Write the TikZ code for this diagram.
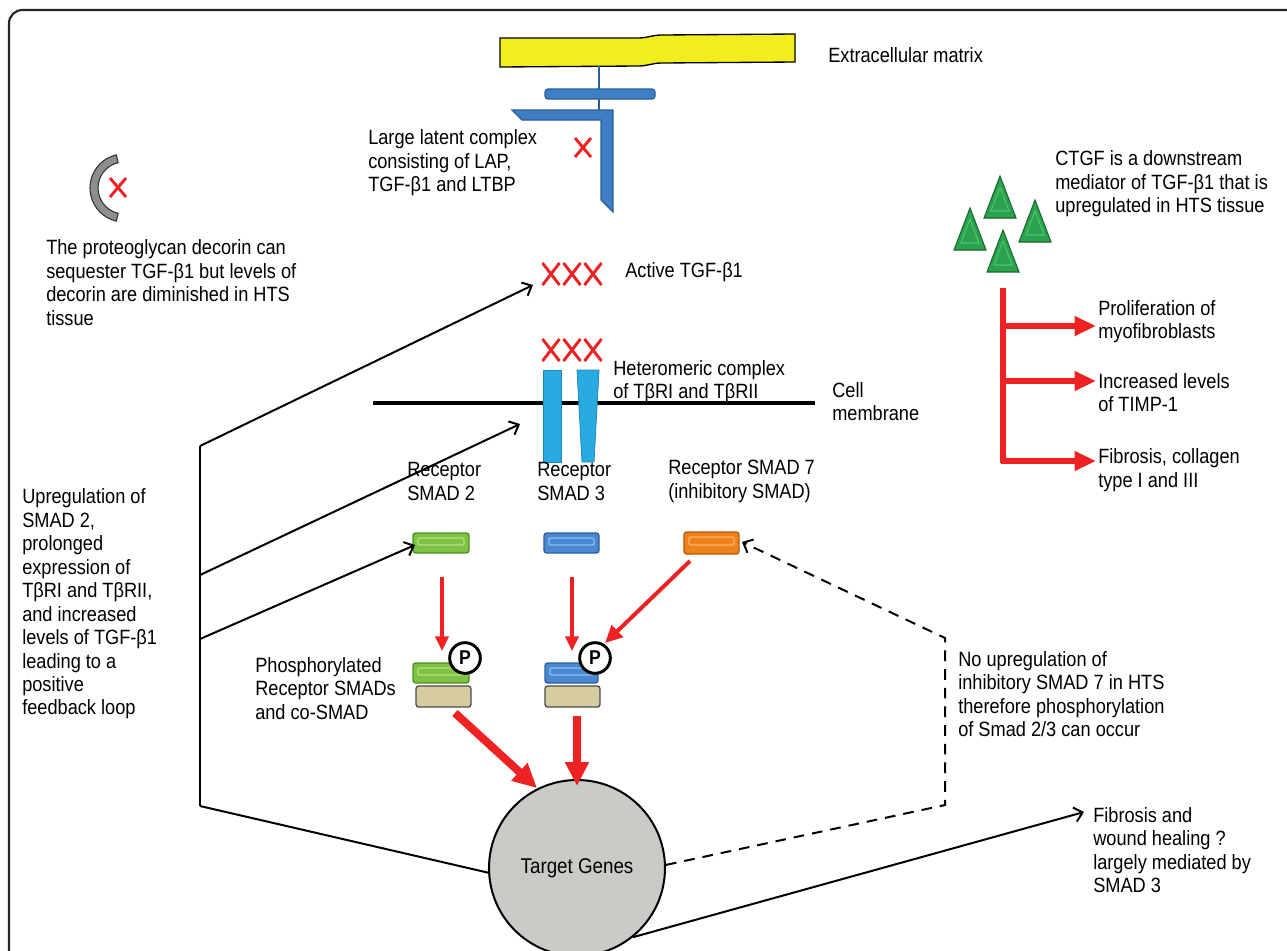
\documentclass[tikz,border=0pt]{standalone}
\usepackage{fontspec}
\setmainfont[FakeStretch=0.88]{Liberation Sans}
\usetikzlibrary{arrows.meta,calc}
\definecolor{ecmyellow}{HTML}{F2EE1E}
\definecolor{llcblue}{HTML}{3F7EC2}
\definecolor{llcdark}{HTML}{2B5E98}
\definecolor{recyan}{HTML}{29ABE2}
\definecolor{recdark}{HTML}{1B86B8}
\definecolor{smgreen}{HTML}{7DC242}
\definecolor{smgreendk}{HTML}{4F8F22}
\definecolor{smgreenlt}{HTML}{B8E27E}
\definecolor{smblue}{HTML}{4A88CF}
\definecolor{smbluedk}{HTML}{2C5F9E}
\definecolor{smbluelt}{HTML}{8EBDF0}
\definecolor{smorange}{HTML}{F0821E}
\definecolor{smorangedk}{HTML}{B45A0C}
\definecolor{smorangelt}{HTML}{F8B46A}
\definecolor{cotan}{HTML}{D7CBA0}
\definecolor{genegray}{HTML}{C9CBC7}
\definecolor{decgray}{HTML}{8E8E8E}
\definecolor{arrred}{HTML}{EE2222}
\definecolor{trigreen}{HTML}{2BA34E}
\definecolor{trigreendk}{HTML}{17672E}
\definecolor{trigreenlt}{HTML}{4CC46E}
\begin{document}
\begin{tikzpicture}[x=0.75pt,y=-0.75pt,
  txt/.style={inner sep=0pt, align=left, anchor=west, font=\fontsize{15.5}{17.6}\selectfont},
  blk/.style={line width=1.5pt, -{Straight Barb[length=6pt,width=11pt,line width=1.5pt]}},
  blkplain/.style={line width=1.5pt},
  redx/.style={draw=arrred, line width=2.2pt},
  redthin/.style={draw=arrred, line width=2.4pt, -{Triangle[length=11pt,width=10pt]}, arrred},
  redmid/.style={draw=arrred, line width=3pt, -{Triangle[length=13pt,width=12pt]}, arrred},
  redthick/.style={draw=arrred, line width=6pt, -{Triangle[length=18pt,width=17pt]}, arrred},
  redbranch/.style={draw=arrred, line width=3.8pt, -{Triangle[length=16pt,width=14pt]}, arrred},
  smadbox/.style={rounded corners=2pt, line width=1pt},
  pcirc/.style={circle, draw=black, line width=2.2pt, fill=white, minimum size=23pt, inner sep=0pt, font=\fontsize{15}{15}\selectfont\bfseries},
]
\useasboundingbox (0,0) rectangle (1287,950);
% border
\begin{scope}
\clip (0,0) rectangle (1287,950);
\draw[line width=1.6pt, draw=black!85, rounded corners=10pt] (9,10) rectangle (1300,965);
\end{scope}

% --- extracellular matrix
\draw[fill=ecmyellow, line width=1pt] (500,38) -- (638,38) .. controls (648,38) and (652,35) .. (662,35) -- (795,34) -- (795,62) -- (662,63) .. controls (652,63) and (648,66) .. (638,66) -- (500,67) -- cycle;
\node[txt] (ecm) at (828,55) {Extracellular matrix};
\coordinate (ecmb) at (599,66);
\coordinate (llct) at (599,110);
\draw[llcdark, line width=1pt] (ecmb) -- (llct);
% LLC
\draw[fill=llcblue, draw=llcdark, line width=0.8pt, rounded corners=2pt] (545,89) rectangle (655,99);
\draw[fill=llcblue, draw=llcdark, line width=0.8pt] (512,110) -- (613,110) -- (613,212) -- (601,200) -- (601,120) -- (522,120) -- cycle;
\draw[redx] (575,138) -- (591,157) (591,138) -- (575,157);
\node[txt] (llc) at (368,163) {Large latent complex\\consisting of LAP,\\TGF-β1  and LTBP};

% --- decorin
\coordinate (dc) at (124,188);
\draw[fill=decgray, draw=black!80, line width=0.8pt] ($(dc)+(103:25.5pt)$) arc[start angle=103, end angle=257, radius=25.5pt] -- ($(dc)+(257:19.5pt)$) arc[start angle=257, end angle=103, radius=19.5pt] -- cycle;
\draw[redx] (110,178) -- (126,197) (126,178) -- (110,197);
\node[txt] (dectxt) at (46,282.5) {The proteoglycan decorin can\\sequester TGF-β1  but levels of\\decorin are diminished in HTS\\tissue};

% --- active TGF
\foreach \cx in {551,572,593}{
  \draw[redx] (\cx-8.5,263) -- (\cx+8.5,285) (\cx+8.5,263) -- (\cx-8.5,285);
  \draw[redx] (\cx-8.5,339) -- (\cx+8.5,361) (\cx+8.5,339) -- (\cx-8.5,361);
}
\coordinate (activetgf) at (533,285);
\node[txt] (acttxt) at (625,272) {Active TGF-β1};

% --- membrane and receptors
\coordinate (memL) at (373,403);
\coordinate (memR) at (815,403);
\draw[line width=2.4pt] (memL) -- (memR);
\draw[fill=recyan, draw=recdark, line width=0.6pt] (543,370) rectangle (561,462);
\draw[fill=recyan, draw=recdark, line width=0.6pt] (577,370) -- (599,370) -- (594,462) -- (582,462) -- cycle;
\coordinate (recep) at (520,424);
\node[txt] (hettxt) at (613,381.5) {Heteromeric complex\\of TβRI and TβRII};
\node[txt] (celltxt) at (832,401.5) {Cell\\membrane};

% --- CTGF
\foreach \ax/\ay in {970/208,1000/176,1035/200,1003/230}{
  \draw[fill=trigreen, draw=trigreendk, line width=0.8pt] (\ax,\ay) -- (\ax-16,\ay+42) -- (\ax+16,\ay+42) -- cycle;
  \draw[draw=trigreenlt, line width=0.8pt] (\ax,\ay+11) -- (\ax-9,\ay+35) -- (\ax+9,\ay+35) -- cycle;
}
\node[txt] (ctgftxt) at (1055,184) {CTGF  is a downstream\\mediator of TGF-β1 that is\\upregulated in HTS  tissue};
\coordinate (ctgfb) at (1003,288);
\coordinate (br1) at (1003,326);
\coordinate (br2) at (1003,381);
\coordinate (br3) at (1003,461);
\draw[arrred, line width=3.8pt] (ctgfb) -- ($(br3)+(0,1.9)$);
\node[txt] (prolif) at (1098,321.5) {Proliferation of\\myofibroblasts};
\node[txt] (timp) at (1098,392.5) {Increased levels\\of TIMP-1};
\node[txt] (fibcol) at (1098,470) {Fibrosis, collagen\\type I and III};
\draw[redbranch] ($(br1)+(-1.9,0)$) -- (1096,326);
\draw[redbranch] ($(br2)+(-1.9,0)$) -- (1096,381);
\draw[redbranch] ($(br3)+(-1.9,0)$) -- (1096,461);

% --- left text and feedback lines
\node[txt] (uptxt) at (22,604) {Upregulation of\\SMAD 2,\\prolonged\\expression of\\TβRI and TβRII,\\and increased\\levels of TGF-β1\\leading to a\\positive\\feedback loop};
\coordinate (fbtop) at (200,446);
\coordinate (fbmid) at (200,575);
\coordinate (fblow) at (200,639);
\coordinate (fbbot) at (200,806);
\draw[blkplain] (fbtop) -- (fbbot);

% --- SMADs
\node[txt] (s2txt) at (407,481.5) {Receptor\\SMAD 2};
\node[txt] (s3txt) at (537,481.5) {Receptor\\SMAD 3};
\node[txt] (s7txt) at (668,481.5) {Receptor SMAD 7\\(inhibitory SMAD)};

\draw[smadbox, fill=smgreen, draw=smgreendk] (413,533) rectangle (469,553);
\draw[smgreenlt, line width=1pt, rounded corners=1pt] (418,538) rectangle (464,545);
\draw[smadbox, fill=smblue, draw=smbluedk] (544,533) rectangle (599,553);
\draw[smbluelt, line width=1pt, rounded corners=1pt] (549,538) rectangle (594,545);
\draw[smadbox, fill=smorange, draw=smorangedk] (684,532) rectangle (739,554);
\draw[smorangelt, line width=1pt, rounded corners=1pt] (689,537) rectangle (734,545);
\coordinate (s2in) at (415,545);
\coordinate (s7in) at (742,542);

\draw[redthin] (442,577) -- (442,651);
\draw[redthin] (572,577) -- (572,651);
\draw[redmid] (690,561) -- (605,643);

% phosphorylated complexes
\draw[smadbox, fill=cotan, draw=black!70] (416,686) rectangle (471,707);
\draw[smadbox, fill=smgreen, draw=smgreendk] (413,663) rectangle (469,683);
\draw[smgreenlt, line width=1pt, rounded corners=1pt] (418,668) rectangle (464,675);
\node[pcirc] (p1) at (465,658) {P};
\draw[smadbox, fill=cotan, draw=black!70] (545,686) rectangle (600,707);
\draw[smadbox, fill=smblue, draw=smbluedk] (545,663) rectangle (598,683);
\draw[smbluelt, line width=1pt, rounded corners=1pt] (550,668) rectangle (593,675);
\node[pcirc] (p2) at (595,658) {P};
\node[txt] (phostxt) at (255,688.5) {Phosphorylated\\Receptor SMADs\\and co-SMAD};

% --- target genes
\node[circle, draw=black, line width=1.5pt, fill=genegray, minimum size=132pt, inner sep=0pt, font=\fontsize{16}{16}\selectfont] (genes) at (577,868) {Target Genes};
\draw[redthick] (455,713) -- (537,788);
\draw[redthick] (577,716) -- (577,786);

% feedback arrows
\draw[blk] (fbtop) -- (activetgf);
\draw[blk] (fbmid) -- (recep);
\draw[blk] (fblow) -- (s2in);
\draw[blkplain] (fbbot) -- (genes.183);

% dashed no-upregulation
\coordinate (dashc1) at (945,805);
\coordinate (dashc2) at (945,638);
\draw[line width=1.5pt, dash pattern=on 8pt off 6pt, -{Straight Barb[length=6pt,width=11pt,line width=1.5pt]}] (genes.2) -- (dashc1) -- (dashc2) -- (s7in);
\node[txt] (notxt) at (958,694) {No upregulation of\\inhibitory SMAD 7 in HTS\\therefore phosphorylation\\of Smad 2/3 can occur};

% fibrosis and wound healing
\coordinate (fibtip) at (1084,812);
\draw[blk] (genes.-51) -- (fibtip);
\node[txt] (fibtxt) at (1093,850) {Fibrosis and\\wound healing ?\\largely mediated by\\SMAD 3};
\end{tikzpicture}
\end{document}
